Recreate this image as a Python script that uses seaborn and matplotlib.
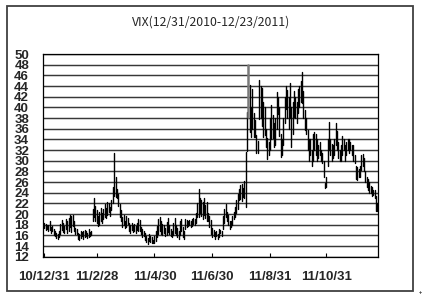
import numpy as np
import pandas as pd
import matplotlib
matplotlib.use("Agg")
import matplotlib.pyplot as plt
import seaborn as sns
from matplotlib.patches import Rectangle

title = "VIX(12/31/2010-12/23/2011)"
tick_days = [0, 39, 82, 125, 168, 210]
tick_labels = ["10/12/31", "11/2/28", "11/4/30", "11/6/30", "11/8/31", "11/10/31"]
y_ticks = list(range(12, 51, 2))

lows = [
    17.3, 17.0, 17.2, 16.8, 17.0, 16.5, 16.8, 16.0, 15.8, 15.5,
    15.3, 15.6, 16.2, 17.0, 16.6, 16.4, 17.2, 16.5, 16.8, 17.5,
    16.6, 17.8, 16.8, 16.3, 16.2, 15.3, 15.2, 15.5, 15.8, 15.4,
    15.6, 15.9, 15.5, 15.7, 15.8, 16.0, 18.6, 19.5, 18.6, 18.3,
    17.8, 18.0, 18.6, 18.3, 19.0, 19.5, 19.2, 19.8, 20.3, 19.6,
    20.8, 22.0, 23.4, 23.2, 23.0, 21.5, 19.5, 18.6, 17.6, 18.0,
    17.3, 17.6, 18.1, 16.8, 16.5, 17.0, 16.6, 16.8, 16.5, 17.0,
    16.9, 16.8, 16.2, 15.6, 15.8, 15.2, 14.8, 14.3, 14.9, 14.7,
    14.6, 14.5, 14.6, 15.0, 15.6, 16.3, 16.8, 16.2, 16.0, 16.5,
    15.8, 16.1, 16.6, 16.2, 15.9, 15.6, 16.0, 16.4, 16.1, 15.6,
    15.4, 16.0, 16.8, 15.6, 15.3, 17.2, 17.6, 17.8, 17.9, 17.6,
    17.8, 18.1, 18.0, 18.4, 19.4, 19.4, 20.2, 19.6, 19.0, 19.8,
    19.2, 18.7, 18.6, 17.6, 16.2, 15.6, 15.8, 15.4, 15.8, 15.3,
    15.6, 16.4, 15.9, 17.2, 18.4, 19.4, 18.6, 17.9, 17.2, 17.5,
    18.0, 19.0, 19.4, 20.1, 21.0, 22.6, 22.9, 22.5, 23.2, 23.0,
    21.3, 31.9, 38.2, 35.4, 34.4, 36.0, 34.5, 34.5, 31.5, 31.4,
    37.9, 38.0, 36.5, 34.5, 34.8, 32.5, 30.4, 31.0, 32.0, 34.0,
    34.2, 32.5, 33.0, 36.0, 38.7, 34.7, 30.7, 31.0, 33.0, 37.0,
    39.6, 38.0, 36.0, 38.0, 32.5, 35.0, 38.2, 38.0, 37.0, 39.0,
    40.0, 41.0, 40.8, 38.0, 35.7, 35.0, 32.0, 30.0, 31.0, 29.0,
    30.0, 32.0, 31.0, 30.0, 30.5, 31.0, 30.0, 29.5, 27.0, 24.8,
    25.0, 29.0, 32.0, 31.0, 30.0, 30.5, 31.0, 33.0, 32.0, 30.5,
    30.0, 30.0, 31.0, 32.0, 30.0, 31.0, 32.0, 31.5, 32.0, 31.0,
    30.0, 29.5, 26.5, 26.3, 27.0, 27.0, 28.3, 29.0, 28.0, 26.0,
    25.0, 24.5, 24.0, 24.0, 23.3, 23.5, 23.0, 20.5, 20.5,
]
highs = [
    18.4, 18.2, 17.9, 18.0, 18.6, 17.6, 17.8, 17.2, 16.8, 16.5,
    16.2, 16.9, 18.1, 18.9, 18.4, 17.8, 19.0, 18.6, 19.3, 19.8,
    19.7, 19.9, 18.6, 17.4, 17.2, 16.5, 16.2, 16.9, 16.6, 16.8,
    17.0, 16.8, 16.4, 17.1, 16.6, 16.8, 21.0, 23.0, 21.5, 20.8,
    19.6, 20.4, 21.1, 20.2, 21.0, 21.8, 21.2, 22.3, 22.0, 21.4,
    22.6, 25.0, 31.4, 27.0, 24.6, 23.8, 21.8, 20.7, 19.5, 19.8,
    18.6, 19.7, 19.3, 18.4, 18.0, 18.4, 17.9, 18.1, 17.8, 18.4,
    19.0, 18.8, 17.5, 17.2, 16.9, 16.4, 15.9, 15.5, 16.2, 15.8,
    15.6, 15.2, 15.8, 16.9, 17.8, 19.0, 19.4, 18.6, 18.2, 17.9,
    17.4, 18.5, 19.3, 18.0, 17.2, 16.8, 18.4, 19.2, 18.0, 17.3,
    16.8, 18.6, 19.0, 17.6, 16.9, 19.0, 18.8, 18.7, 18.9, 18.6,
    19.0, 19.2, 19.0, 20.2, 22.0, 24.6, 23.0, 22.6, 22.3, 23.0,
    21.7, 22.2, 20.2, 19.7, 18.8, 17.3, 17.0, 16.6, 16.8, 16.2,
    17.2, 17.0, 16.9, 19.6, 21.0, 21.9, 20.4, 19.8, 18.6, 18.6,
    19.6, 20.3, 21.4, 22.6, 23.8, 24.6, 25.4, 25.7, 24.8, 26.1,
    31.6, 39.2, 47.9, 44.2, 40.0, 43.5, 39.0, 37.7, 34.8, 33.6,
    45.1, 44.0, 43.6, 41.0, 40.0, 36.0, 34.2, 33.5, 38.0, 40.4,
    38.5, 37.0, 38.0, 42.8, 42.0, 40.0, 35.0, 34.0, 38.0, 42.0,
    44.0, 43.2, 42.0, 44.5, 40.0, 41.0, 43.0, 42.0, 41.0, 43.5,
    44.0, 45.0, 46.6, 43.0, 39.5, 38.0, 35.7, 34.0, 34.0, 32.0,
    35.0, 35.3, 35.0, 34.0, 33.0, 33.5, 32.0, 31.5, 30.0, 25.9,
    27.0, 34.0, 37.2, 34.0, 33.2, 33.0, 34.0, 37.0, 35.5, 33.5,
    32.0, 33.0, 34.7, 34.0, 33.0, 33.5, 34.0, 34.0, 33.5, 33.0,
    33.0, 31.0, 29.0, 28.8, 28.5, 29.0, 31.0, 31.3, 30.5, 28.0,
    27.0, 26.5, 26.0, 25.3, 25.0, 24.5, 24.5, 23.4, 22.0,
]
highlight_day = 152

days = np.arange(len(lows))
df = pd.DataFrame({
    "day": np.concatenate([days, days]),
    "vix": np.concatenate([lows, highs]),
})
df["spike"] = df["day"] == highlight_day

sns.set_theme(style="white")
plt.rcParams["font.family"] = ["Liberation Sans", "DejaVu Sans"]

fig = plt.figure(figsize=(4.22, 3.0), dpi=100)
fig.patch.set_facecolor("white")
ax = fig.add_axes([43 / 422, 43.3 / 300, 335 / 422, 202.7 / 300])

for v in y_ticks:
    ax.axhline(v, color="#383838", lw=1.05, zorder=1)

sns.lineplot(data=df[~df["spike"]], x="day", y="vix", units="day",
             estimator=None, color="black", lw=1.0, ax=ax, zorder=3,
             legend=False)
sns.lineplot(data=df[df["spike"]], x="day", y="vix", units="day",
             estimator=None, color="#7a7a7a", lw=1.8, ax=ax, zorder=4,
             legend=False)

ax.set_xlim(-1, 248.5)
ax.set_ylim(12, 50)
ax.set_yticks(y_ticks)
ax.set_yticklabels([str(v) for v in y_ticks], fontweight="bold", fontsize=9.5)
ax.set_xticks(tick_days)
ax.set_xticklabels(tick_labels, fontsize=9.5, fontweight="bold")
ax.tick_params(axis="y", length=0, pad=10)
ax.tick_params(axis="x", direction="in", length=3, width=0.8, color="black",
               pad=10, bottom=True)
ax.set_xlabel("")
ax.set_ylabel("")
for s in ax.spines.values():
    s.set_visible(True)
    s.set_color("black")
    s.set_linewidth(0.9)

fig.text(211 / 422, 1 - 22 / 300, title, ha="center", va="center",
         fontsize=8.8, family=["Noto Sans CJK JP", "DejaVu Sans"])

fig.add_artist(Rectangle((7 / 422, 1 - 291 / 300), 406 / 422, 285 / 300,
                         transform=fig.transFigure, fill=False,
                         edgecolor="#404040", lw=1.3))
fig.text(420 / 422, 1 - 292 / 300, "+", fontsize=4, ha="center",
         va="center", color="#333333", fontweight="bold")

fig.savefig("out.png", dpi=100)
